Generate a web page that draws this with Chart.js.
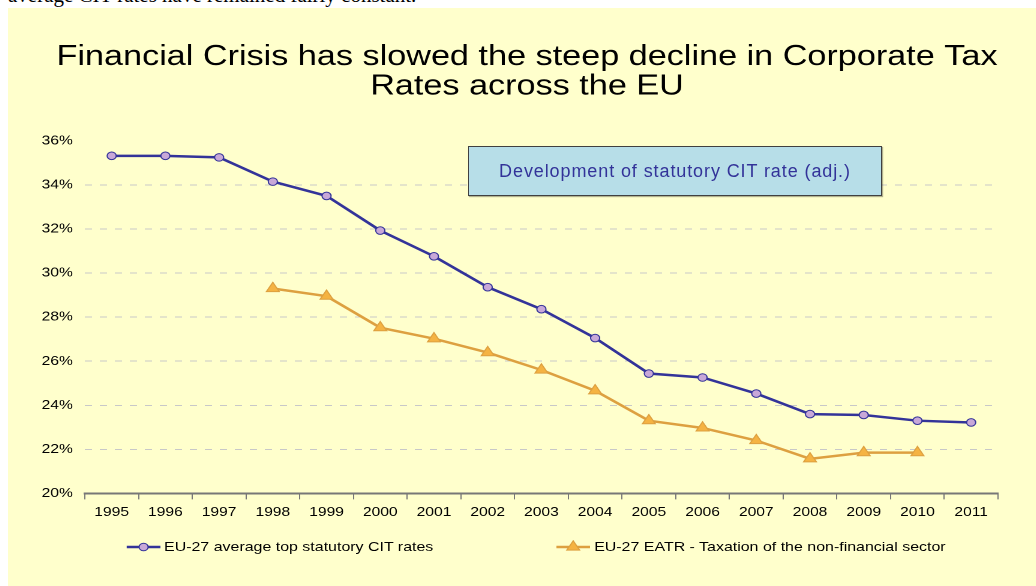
<!DOCTYPE html>
<html lang="en">
<head>
<meta charset="UTF-8" />
<title>Corporate Tax Rates across the EU</title>
<script src="https://cdn.jsdelivr.net/npm/chart.js"></script>
<style>
  body { margin: 0; background: #fff; width: 1036px; height: 586px; overflow: hidden; position: relative; }
  #lead { position: absolute; left: 8px; top: -15px; font-family: "Liberation Serif", "Times New Roman", serif; font-size: 21px; line-height: 21px; white-space: nowrap; color: #000; }
  #panel { position: absolute; left: 8px; top: 8px; width: 1028px; height: 578px; background: #FFFFCC; overflow: hidden; }
  /* the original picture is stretched sideways, so the chart is drawn narrow and widened */
  #stretch { position: absolute; left: 0; top: 0; width: 857px; height: 578px; transform: scaleX(1.2); transform-origin: 0 0; }
  #legend { position: absolute; left: 99px; top: 531px; display: flex; gap: 103px; align-items: center;
            font-family: "Liberation Sans", Arial, sans-serif; font-size: 13.3px; color: #000; white-space: nowrap; }
  #legend .item { display: flex; align-items: center; gap: 3px; }
  #note { position: absolute; left: 460px; top: 138px; width: 414px; height: 50px; box-sizing: border-box;
          background: #B7DEE8; border: 1.5px solid #404040; box-shadow: 1px 1px 1px rgba(0,0,0,0.3);
          font-family: "Liberation Sans", Arial, sans-serif; font-size: 18px; letter-spacing: 0.9px; color: #333399;
          display: flex; align-items: center; justify-content: center; }
</style>
</head>
<body>
  <div id="lead">average CIT rates have remained fairly constant.</div>
  <div id="panel">
    <div id="stretch">
      <canvas id="taxChart" width="857" height="578"></canvas>
      <div id="legend"></div>
    </div>
    <div id="note">Development of statutory CIT rate (adj.)</div>
  </div>

<script>
  // values (percent)
  const years = ['1995','1996','1997','1998','1999','2000','2001','2002','2003','2004','2005','2006','2007','2008','2009','2010','2011'];
  const citRates = [35.32, 35.32, 35.25, 34.15, 33.5, 31.93, 30.76, 29.36, 28.36, 27.05, 25.44, 25.26, 24.53, 23.6, 23.56, 23.3, 23.22];
  const eatrRates = [null, null, null, 29.3, 28.95, 27.52, 27.02, 26.39, 25.6, 24.66, 23.3, 22.97, 22.4, 21.57, 21.85, 21.85, null];
  const yMin = 20, yMax = 36, yStep = 2;

  const titleLines = ['Financial Crisis has slowed the steep decline in Corporate Tax', 'Rates across the EU'];
  const citLabel = 'EU-27 average top statutory CIT rates';
  const eatrLabel = 'EU-27 EATR - Taxation of the non-financial sector';

  const blue = '#333399', lilac = '#C8A8D8';
  const orange = '#DDA040', orangeFill = '#F5B342';

  Chart.defaults.font.family = '"Liberation Sans", Arial, sans-serif';
  Chart.defaults.color = '#000';

  const ctx = document.getElementById('taxChart').getContext('2d');
  const chart = new Chart(ctx, {
    type: 'line',
    data: {
      labels: years,
      datasets: [{
        label: citLabel,
        data: citRates,
        borderColor: blue,
        borderWidth: 2.5,
        pointStyle: 'circle',
        pointRadius: 3.8,
        pointBackgroundColor: lilac,
        pointBorderColor: blue,
        pointBorderWidth: 1,
        tension: 0
      }, {
        label: eatrLabel,
        data: eatrRates,
        borderColor: orange,
        borderWidth: 2.5,
        pointStyle: 'triangle',
        pointRadius: 6.2,
        pointBackgroundColor: orangeFill,
        pointBorderColor: orange,
        pointBorderWidth: 1,
        tension: 0
      }]
    },
    options: {
      responsive: false,
      animation: false,
      devicePixelRatio: 2,
      layout: { padding: { left: 26, right: 18, top: 0, bottom: 61 } },
      plugins: {
        title: {
          display: true,
          text: titleLines,
          font: { size: 28.5, weight: 'normal', lineHeight: 1.05 },
          color: '#000',
          padding: { top: 34, bottom: 39 }
        },
        legend: { display: false },
        tooltip: { enabled: false }
      },
      scales: {
        x: {
          offset: true,
          grid: { offset: true, drawOnChartArea: false, color: '#777', tickLength: 6, lineWidth: 1 },
          border: { color: '#777', width: 2 },
          ticks: { font: { size: 13 }, padding: 5, maxRotation: 0, autoSkip: false }
        },
        y: {
          min: yMin,
          max: yMax,
          afterFit: s => { s.width = 38; },
          ticks: { stepSize: yStep, autoSkip: false, font: { size: 13 }, padding: 10, callback: v => v + '%' },
          grid: {
            drawTicks: false,
            lineWidth: 1,
            color: c => (c.tick && c.tick.value === yMax) ? 'transparent' : '#C8C8C8'
          },
          border: { display: false, dash: [6, 6.5] }
        },
        // empty right-hand margin, keeps the title centred as in the original
        yRight: {
          position: 'right',
          grid: { display: false },
          border: { display: false },
          ticks: { display: false },
          afterFit: s => { s.width = 14; }
        }
      }
    }
  });

  // legend below the axis, built from the datasets: a short line with the marker
  function legendSwatch(ds) {
    const c = document.createElement('canvas');
    const dpr = 2;
    c.width = 28 * dpr; c.height = 14 * dpr;
    c.style.width = '28px'; c.style.height = '14px';
    const g = c.getContext('2d');
    g.scale(dpr, dpr);
    g.strokeStyle = ds.borderColor; g.lineWidth = ds.borderWidth;
    g.beginPath(); g.moveTo(0, 7); g.lineTo(28, 7); g.stroke();
    g.fillStyle = ds.pointBackgroundColor;
    g.strokeStyle = ds.pointBorderColor;
    g.lineWidth = 1;
    Chart.helpers.drawPoint(g, { pointStyle: ds.pointStyle, radius: ds.pointRadius, borderWidth: 1 }, 14, 7);
    return c;
  }

  const legendEl = document.getElementById('legend');
  chart.data.datasets.forEach(ds => {
    const item = document.createElement('div');
    item.className = 'item';
    item.appendChild(legendSwatch(ds));
    const span = document.createElement('span');
    span.textContent = ds.label;
    item.appendChild(span);
    legendEl.appendChild(item);
  });
</script>
</body>
</html>
